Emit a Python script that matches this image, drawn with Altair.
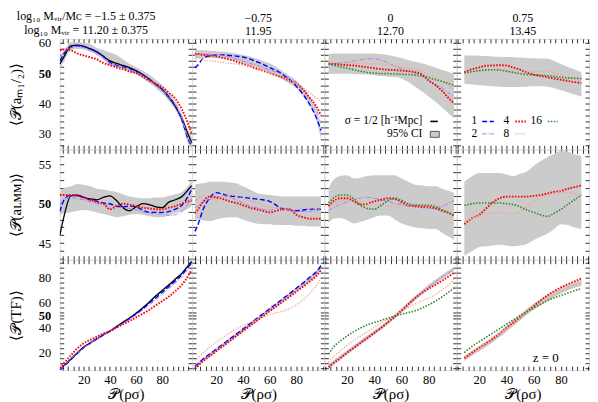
import altair as alt
import pandas as pd

SERIF = "Liberation Serif"
BAND_COLOR = "#cbcbcb"
W, H = 133, 111

# ---------------- x grids per column ----------------
X_C1 = [1.7, 5, 10, 15, 20, 25, 30, 35, 40, 45, 50, 55, 60, 65, 70, 75, 80, 85, 90, 95, 100, 102.5]
X_C2 = [4, 6, 10, 15, 20, 25, 30, 35, 40, 45, 50, 55, 60, 65, 70, 75, 80, 85, 90, 95, 98.5]
X_C3 = [6.5, 10, 15, 20, 25, 30, 35, 40, 45, 50, 55, 60, 65, 70, 75, 80, 85, 90, 95, 98.5]
X_C4 = [9, 15, 20, 25, 30, 35, 40, 45, 50, 55, 60, 65, 70, 75, 80, 85, 90, 95]

# ---------------- row 1: <P(a_M1/2)> ----------------
R1C1_HALF = [53, 55.5, 59, 59.2, 58.8, 58, 57, 55.5, 54, 53.2, 52.5, 51.8, 50.8, 49.5, 48, 46.2, 44.5, 42, 39, 35, 29.5, 27]
R1C1_S1 = [54, 56.5, 58.5, 59, 58.8, 58, 57, 55.5, 53.5, 52.5, 52, 51.5, 50.5, 49.5, 48, 46.3, 44.5, 42.2, 39.2, 34.5, 28, 26]
R1C1_S2 = [55.5, 57, 58.5, 58.8, 58.3, 57.5, 56.5, 55, 53.2, 52.3, 51.8, 51, 50.3, 49.2, 47.8, 46.2, 44.3, 42, 39.5, 35, 28.5, 26.5]
R1C1_S4 = [57.5, 57.8, 57.5, 56.5, 55.8, 55.2, 54.5, 53.3, 52.6, 51.8, 51.3, 50.5, 50, 48.8, 47.5, 46.5, 45.3, 43.5, 41.5, 38, 33, 30]
R1C1_LO = [51.5, 54, 57.5, 58, 57.8, 57, 56, 54.5, 52.5, 52, 51.3, 50.5, 49.5, 48.3, 46.7, 45, 43.2, 40.8, 37.8, 33.5, 26.5, 25]
R1C1_HI = [55, 57.5, 60.2, 60.3, 60, 59.5, 58.3, 57.5, 56.8, 56, 54.5, 53, 52, 50.8, 49.5, 47.8, 46, 43.5, 40.5, 36.5, 31, 29]

R1C2_S1 = [51.7, 52.5, 54.8, 55.7, 56, 56, 55.8, 55.6, 55.3, 54.7, 53.8, 52.9, 51.8, 50.8, 49.5, 47.8, 45.6, 43, 39.6, 35.2, 31]
R1C2_S2 = [56, 56.1, 56.3, 56.2, 56, 55.7, 55.3, 54.7, 54, 53.3, 52.5, 51.8, 51, 50.3, 49.5, 48.3, 47, 45, 42, 38, 33]
R1C2_S4 = [56.3, 56.3, 56.0, 55.8, 55.5, 55.0, 54.5, 53.8, 53.0, 52.3, 51.5, 50.8, 50.0, 49.2, 48.5, 47.5, 46.5, 44.5, 41.8, 39, 36]
R1C2_S8 = [56, 55.5, 54.3, 54, 53.8, 53.5, 53.2, 53, 52.6, 52.2, 51.5, 50.9, 50.2, 49.3, 48.5, 47.5, 46.5, 45, 43.5, 41.8, 40.5]
R1C2_LO = [54.5, 54.8, 55, 55, 55, 54.8, 54.5, 54, 53.2, 52.6, 52, 51, 50, 49, 47.8, 46.5, 45, 42.5, 39.5, 34.5, 28]
R1C2_HI = [57.5, 57.5, 57.5, 57.4, 57.2, 57, 56.8, 56.5, 56, 55.5, 54.8, 54, 53.2, 52, 50.5, 49, 47.5, 45, 42, 37.5, 31.5]

R1C3_S2 = [52.8, 53, 53.3, 53.6, 54, 54.4, 54.7, 54.7, 54.2, 53.4, 52.3, 51.3, 50.6, 50, 49, 47.5, 46.2, 45, 43.3, 42]
R1C3_S4 = [53.1, 53, 52.8, 52.6, 52.5, 52.2, 51.9, 51.6, 51.3, 51.1, 51, 50.8, 50.6, 50.3, 49.5, 47.5, 46, 44, 41.5, 40]
R1C3_S8 = [53.5, 53.5, 53.4, 53.3, 53.3, 53.2, 53.1, 53.1, 53.0, 52.8, 52.4, 52, 51.6, 51.2, 50.5, 49.5, 48.5, 47.3, 45.7, 44.5]
R1C3_S16 = [53, 52.6, 52.1, 51.6, 51.1, 50.6, 50.2, 50, 49.8, 49.8, 49.7, 49.6, 49.5, 49.3, 49, 48.5, 47.8, 47.2, 46.5, 46]
R1C3_LO = [49.8, 49.8, 49.8, 49.8, 49.7, 49.6, 49.5, 49.3, 49, 48.8, 48.7, 48.2, 47, 45.5, 44, 42.2, 40.5, 38.5, 36.5, 35]
R1C3_HI = [56.3, 56.5, 56.5, 56.5, 56.5, 56.5, 56.5, 56.5, 56.3, 56.0, 55.5, 55, 54.3, 53.7, 53.2, 52.5, 51.8, 51, 50.3, 49.8]

R1C4_S4 = [50.3, 51.3, 51.9, 52.4, 52.5, 52.6, 52.5, 51.8, 51.1, 50.2, 49.5, 49, 48.6, 48.2, 47.8, 47.4, 47, 46.7]
R1C4_S8 = [50, 50.4, 50.8, 51, 51, 51, 50.8, 50.5, 50.3, 50.3, 50.4, 50.6, 50.7, 50.2, 49.3, 48.5, 48, 47.6]
R1C4_S16 = [50, 50.5, 50.8, 51, 51.1, 51, 50.6, 50.2, 49.8, 49.5, 49.4, 49.3, 49.1, 48.9, 48.6, 48.4, 48.3, 48.2]
R1C4_LO = [46.5, 46.2, 46, 45.8, 45.6, 45.5, 45.4, 45.4, 45.4, 45.5, 45.6, 45.6, 45.5, 45, 44.3, 43.6, 42.9, 42.2]
R1C4_HI = [55.8, 55.8, 55.7, 55.6, 55.5, 55.4, 55.3, 55.2, 55.1, 55.0, 54.9, 54.8, 54.7, 54, 53, 52, 51.2, 50.3]

# ---------------- row 2: <P(a_LMM)> ----------------
R2C1_HALF = [46, 48.5, 51, 51.1, 50.8, 50.6, 50.5, 50.8, 51.0, 50.4, 49.5, 49.1, 49.6, 50.0, 49.9, 49.6, 49.5, 50.2, 50.5, 50.9, 51.8, 52.3]
R2C1_S1 = [49, 50.5, 51.1, 51.0, 50.8, 50.5, 50.3, 50.1, 50.0, 49.7, 49.6, 49.7, 49.6, 49.2, 48.9, 48.9, 48.9, 49.0, 49.3, 49.8, 51.0, 51.8]
R2C1_S2 = [49.8, 50.6, 50.8, 50.6, 50.5, 50.2, 50.0, 49.9, 49.8, 49.6, 49.5, 49.4, 49.2, 49.0, 48.8, 48.7, 48.7, 48.5, 48.6, 49.0, 50.0, 50.7]
R2C1_S4 = [51.1, 51.1, 51.1, 51.0, 50.8, 50.5, 50.2, 50.0, 49.3, 49.7, 50.0, 49.9, 49.7, 49.5, 49.4, 49.3, 49.3, 49.5, 49.7, 50.0, 50.3, 50.4]
R2C1_LO = [48.5, 48.8, 48.9, 49.1, 49.2, 49.1, 48.9, 48.7, 48.5, 48.3, 48.4, 48.6, 48.7, 48.6, 48.4, 48.3, 48.3, 48.5, 48.8, 49.0, 49.4, 49.7]
R2C1_HI = [51.5, 52.0, 52.2, 52.5, 52.4, 52.2, 51.9, 51.8, 51.6, 51.5, 51.2, 50.9, 50.8, 50.7, 50.7, 50.8, 50.8, 51.0, 51.2, 51.5, 52.3, 53.0]

R2C2_S1 = [46.5, 47.2, 49.2, 50.7, 51.4, 51.2, 51.0, 50.9, 50.8, 50.7, 50.6, 50.5, 50.3, 49.8, 49.3, 49.2, 49.1, 49.2, 49.3, 49.3, 49.3]
R2C2_S2 = [49.5, 49.7, 50.2, 50.5, 50.8, 51.0, 50.8, 50.5, 50.1, 49.7, 49.5, 49.3, 49.2, 49.4, 49.5, 49.2, 49.0, 49.0, 49.0, 49.1, 49.3]
R2C2_S4 = [48.8, 49.2, 50.2, 50.9, 50.8, 50.6, 50.3, 50.1, 49.8, 49.5, 49.3, 49.1, 48.9, 49.1, 49.3, 49.3, 48.6, 48.3, 48.1, 48.1, 48.1]
R2C2_S8 = [50.3, 50.6, 51.0, 50.8, 50.5, 50.8, 51.1, 51.0, 50.7, 50.4, 50.1, 49.8, 49.6, 49.5, 49.3, 49.2, 49.3, 49.5, 49.4, 49.3, 49.3]
R2C2_LO = [48.1, 48.0, 47.9, 47.8, 48.0, 48.2, 48.3, 48.3, 48.0, 47.7, 47.5, 47.4, 47.4, 47.3, 47.3, 47.3, 47.2, 47.2, 47.1, 47.1, 47.1]
R2C2_HI = [52.4, 52.5, 52.6, 52.8, 52.8, 52.8, 52.7, 52.6, 52.2, 51.8, 51.4, 51.2, 51.1, 51.0, 50.9, 50.9, 50.9, 50.9, 50.9, 50.9, 50.9]

R2C3_S2 = [49.2, 49.5, 49.9, 50.2, 50.5, 50.7, 50.8, 50.7, 50.5, 50.3, 50.0, 49.9, 49.7, 49.6, 49.5, 49.4, 49.4, 49.7, 50.1, 50.4]
R2C3_S4 = [49.7, 50.3, 50.7, 50.7, 50.3, 49.9, 50.0, 50.3, 50.5, 50.7, 50.6, 50.2, 49.8, 49.7, 49.6, 49.6, 49.4, 49.1, 48.8, 48.5]
R2C3_S8 = [49.5, 49.9, 50.3, 50.5, 50.3, 50.1, 50.0, 49.9, 49.8, 49.7, 49.6, 49.7, 49.9, 49.9, 49.9, 49.9, 49.8, 49.5, 49.0, 48.7]
R2C3_S16 = [50.1, 50.7, 51.1, 51.1, 50.6, 49.8, 49.4, 49.3, 49.8, 50.4, 50.7, 50.4, 50.0, 49.8, 49.8, 49.8, 49.6, 49.2, 48.8, 48.5]
R2C3_LO = [47.6, 48.1, 48.2, 47.9, 47.5, 47.7, 48.0, 48.3, 48.5, 48.5, 48.0, 47.5, 47.2, 47.0, 46.9, 46.8, 46.8, 46.3, 45.8, 45.4]
R2C3_HI = [52.0, 53.0, 53.5, 53.6, 53.2, 53.3, 53.5, 53.6, 53.6, 53.6, 53.6, 53.2, 52.8, 52.4, 52.3, 52.2, 52.2, 51.9, 51.6, 51.4]

R2C4_S4 = [47.4, 48.2, 48.6, 49.4, 50.2, 50.7, 50.9, 50.9, 50.9, 50.9, 51.0, 51.1, 51.3, 51.5, 51.6, 51.9, 52.1, 52.3]
R2C4_S8 = [47.7, 48.2, 48.5, 48.7, 48.8, 48.9, 48.8, 48.7, 49.0, 49.6, 50.2, 50.7, 51.1, 51.3, 51.5, 51.4, 51.3, 51.1]
R2C4_S16 = [49.8, 50.0, 50.1, 50.1, 50.1, 50.1, 50.0, 49.9, 49.6, 49.2, 48.9, 48.6, 48.4, 48.8, 49.3, 49.9, 50.5, 51.1]
R2C4_LO = [43.4, 44.0, 44.5, 44.6, 44.7, 44.8, 44.7, 44.6, 44.7, 44.9, 45.4, 45.8, 46.2, 46.8, 47.4, 47.3, 47.0, 46.8]
R2C4_HI = [52.8, 53.5, 53.9, 53.9, 53.9, 53.9, 53.7, 53.5, 53.8, 54.1, 54.8, 55.4, 55.9, 56.3, 56.7, 56.6, 56.3, 56.0]

# ---------------- row 3: <P(TF)> ----------------
R3C1_HALF = [6.7, 10, 15, 20, 24.7, 28, 31.3, 34.5, 37.5, 41, 44.5, 48, 51.8, 56, 60.6, 65.5, 70, 74.3, 79, 83.7, 90, 93.2]
R3C1_S1 = [6.5, 9.5, 14.5, 19.5, 24.2, 27.8, 31.2, 34.5, 37.5, 40.8, 44.2, 47.5, 51.2, 55.2, 59.5, 64, 68.5, 73, 77.5, 82.5, 89, 92.6]
R3C1_S2 = [7, 10, 15, 19.8, 24.2, 27.8, 31.2, 34.4, 37.3, 40.5, 43.8, 47, 50.5, 54.2, 58.3, 62.5, 67, 71.5, 76, 81, 87.5, 91]
R3C1_S4 = [7.8, 12, 18, 23.5, 27.8, 30.5, 33, 35.5, 37.3, 40.2, 43, 45.6, 48.4, 51.3, 54.4, 58, 61.5, 65, 69.5, 74.5, 82, 86.6]
R3C1_LO = [5.5, 9, 14, 19, 23.7, 27, 30.3, 33.5, 36.5, 40, 43.5, 47, 50.8, 55, 59.6, 64.5, 69, 73.3, 78, 82.7, 89, 92.2]
R3C1_HI = [7.7, 11, 16, 21, 25.7, 29, 32.3, 35.5, 38.5, 42, 45.5, 49, 52.8, 57, 61.6, 66.5, 71, 75.3, 80, 84.7, 91, 94.2]

R3C2_S1 = [9.2, 11, 15, 19, 23, 27, 31, 35, 39, 43.2, 47.3, 51.3, 55.3, 59.3, 63.5, 67.5, 71.8, 76, 80.5, 85, 89.8]
R3C2_S2 = [8.3, 10, 14.1, 18.1, 22.2, 26.2, 30.2, 34.2, 38.2, 42.2, 46.3, 50.3, 54.3, 58.3, 62.3, 66.3, 70.3, 74.5, 78.8, 83.3, 88]
R3C2_S4 = [7.5, 9.2, 13.3, 17.3, 21.4, 25.4, 29.4, 33.4, 37.4, 41.4, 45.4, 49.3, 53.3, 57.2, 61.2, 65.1, 69, 73, 77.2, 81.5, 86.3]
R3C2_S8 = [14, 15.5, 20, 24.5, 28.5, 32.5, 36, 39.3, 41.8, 44.3, 46.5, 48.5, 50.5, 52, 53.5, 55.5, 58.5, 62.5, 67.5, 74, 80.5]
R3C2_LO = [7, 8.8, 12.8, 16.8, 20.8, 24.8, 28.8, 32.8, 36.8, 40.8, 44.9, 48.9, 52.9, 56.9, 60.9, 64.9, 68.9, 73, 77.3, 81.8, 86.5]
R3C2_HI = [10, 11.8, 15.8, 19.8, 23.8, 27.8, 31.8, 35.8, 39.8, 43.9, 48, 52, 56, 60, 64.2, 68.2, 72.5, 76.8, 81.2, 85.8, 90.5]

R3C3_S2 = [9.5, 12.5, 16.5, 20.5, 24.5, 28.5, 32.3, 36.2, 40.2, 44.5, 49, 53.8, 58.8, 63.8, 68.5, 73, 77, 81, 84.5, 87]
R3C3_S4 = [8.5, 11.5, 15.5, 20, 24, 28, 32, 36, 40, 44.5, 49, 54, 59, 64, 68, 71.5, 74.7, 78, 81.5, 84]
R3C3_S8 = [12.5, 17, 21.5, 26, 30, 33.5, 37, 40.5, 44, 47, 50.3, 53.3, 56.3, 59, 61.6, 64, 66.8, 70.5, 75, 79]
R3C3_S16 = [19, 24.5, 29.5, 33.5, 37, 40, 42.5, 44.3, 46, 47.8, 49.5, 51, 52.3, 53.7, 56, 58.5, 61.6, 65, 69, 72]
R3C3_LO = [7.8, 10.8, 14.8, 18.8, 22.8, 26.8, 30.6, 34.5, 38.5, 42.8, 47.3, 52, 57, 62, 66.7, 71.2, 75.2, 79.2, 82.8, 85.3]
R3C3_HI = [11.2, 14.2, 18.2, 22.2, 26.2, 30.2, 34, 37.9, 41.9, 46.2, 50.7, 55.6, 60.6, 65.6, 70.3, 74.8, 78.8, 82.8, 86.2, 88.7]

R3C4_S4 = [15.8, 20.5, 24, 27.5, 31.2, 35.2, 40, 44.2, 48.5, 53, 57.5, 62, 66, 69.5, 72.5, 75, 77.3, 79.5]
R3C4_S8 = [15, 19.5, 23.2, 27, 31, 35, 39.5, 44, 48.5, 52.5, 56.3, 60, 63.3, 66.5, 69.5, 72, 74.2, 76]
R3C4_S16 = [20.2, 25.5, 29, 32.5, 36, 39.5, 43, 46.5, 49.8, 53, 56, 59, 61.8, 64, 66, 68, 69.8, 71.5]
R3C4_LO = [13.5, 18, 21.5, 25, 28.8, 32.8, 37, 41.5, 46, 50.5, 54.5, 58, 61.3, 64.5, 67.5, 70, 72.2, 73.5]
R3C4_HI = [17.5, 22, 25.5, 29.2, 33.3, 37.3, 41.8, 46.5, 51, 55.3, 59.3, 63, 66.3, 69.3, 72, 74.5, 76.5, 78.5]

# ---------------- text ----------------
COL_TITLES = [
    ["log\u2081\u2080 M\u1d65\u1d62\u1d63/M\u1d04 = \u22121.5 \u00b1 0.375", "log\u2081\u2080 M\u1d65\u1d62\u1d63 = 11.20 \u00b1 0.375"],
    ["\u22120.75", "11.95"],
    ["0", "12.70"],
    ["0.75", "13.45"],
]
ROW_TITLES = ["\u27e8\U0001D4AB(a\u2098\u2081/\u2082)\u27e9", "\u27e8\U0001D4AB(a\u029f\u1d0d\u1d0d)\u27e9", "\u27e8\U0001D4AB(TF)\u27e9"]
X_TITLE = "\U0001D4AB(\u03c1\u03c3)"
SIGMA_LABEL = ["\u03c3 = 1/2 [h\u207b\u00b9Mpc]"]
CI_LABEL = ["95% CI"]
LEG_ROW1 = ["1", "4", "16"]
LEG_ROW2 = ["2", "8"]
Z_LABEL = ["z = 0"]

XDOM = [[1.6, 102.8], [1.9, 101.0], [3.4, 100.5], [3.4, 100.6]]
YDOM = [[24.8, 61.3], [42.9, 56.9], [6.2, 94.6]]
XT = [[v for v in range(4, 101, 4) if d[0] <= v <= d[1]] for d in XDOM]
YT = [list(range(26, 61, 2)), list(range(43, 57)), sorted(list(range(8, 93, 4)) + [50])]
XLAB = "(datum.value==20||datum.value==40||datum.value==60||datum.value==80) ? datum.label : ''"
YLAB = [
    "(datum.value % 10 == 0) ? datum.label : ''",
    "(datum.value % 5 == 0) ? datum.label : ''",
    "(datum.value==20||datum.value==40||datum.value==50||datum.value==60||datum.value==80) ? datum.label : ''",
]

STYLES = {
    "half": dict(color="black", strokeWidth=1.3),
    "s1": dict(color="#0000ff", strokeDash=[5, 2.5], strokeWidth=1.4),
    "s2": dict(color="#a97cf4", strokeDash=[4, 1.5, 1, 1.5], strokeWidth=1.0),
    "s4": dict(color="#ff0000", strokeDash=[1.6, 1.4], strokeWidth=1.9),
    "s8": dict(color="#f3a183", strokeDash=[1.2, 1.5], strokeWidth=1.3),
    "s16": dict(color="#2a8a2a", strokeDash=[1.5, 1.5], strokeWidth=1.6),
}

BOLD50 = {"condition": {"test": "datum.value == 50", "value": "bold"}, "value": "normal"}


def make_axis(orient, values, show_labels, label_expr=None, bold=False, pad=4, tpad=4):
    kw = dict(orient=orient, values=values, offset=-4, tickSize=4, tickWidth=0.8,
              tickColor="black", domain=False, grid=False, labels=show_labels,
              labelFont=SERIF, labelFontSize=12.5, labelColor="black",
              labelPadding=pad, labelOverlap=False, labelFlush=False,
              titleFont=SERIF, titleFontSize=15, titleFontWeight="normal",
              titleColor="black", titlePadding=tpad)
    if show_labels and label_expr:
        kw["labelExpr"] = label_expr
    if show_labels and bold:
        kw["labelFontWeight"] = BOLD50
    return alt.Axis(**kw)


def text_layer(txt, x, y, align="center", size=11.5):
    return alt.Chart(pd.DataFrame({"t": txt})).mark_text(
        font=SERIF, fontSize=size, align=align, baseline="middle", color="black"
    ).encode(x=alt.value(x), y=alt.value(y), text="t:N")


def rule_layer(x1, x2, y, style):
    return alt.Chart(pd.DataFrame({"k": [0]})).mark_rule(**style).encode(
        x=alt.value(x1), x2=alt.value(x2), y=alt.value(y))


def panel(r, c, xs, lo, hi, series, extras=()):
    data = {"x": xs, "lo": lo, "hi": hi}
    for key, vals in series:
        data[key] = vals
    df = pd.DataFrame(data)
    xsc = alt.Scale(domain=XDOM[c], nice=False, zero=False)
    ysc = alt.Scale(domain=YDOM[r], nice=False, zero=False)

    ax_b = make_axis("bottom", XT[c], r == 2, XLAB, pad=3, tpad=1)
    ax_l = make_axis("left", YT[r], c == 0, YLAB[r], bold=True, pad=9, tpad=15)
    ax_t = make_axis("top", XT[c], False)
    ax_r = make_axis("right", YT[r], False)

    x_main = alt.X("x:Q", scale=xsc, axis=ax_b, title=X_TITLE if r == 2 else None)
    y_main = alt.Y("lo:Q", scale=ysc, axis=ax_l, title=ROW_TITLES[r] if c == 0 else None)

    band = alt.Chart(df).mark_area(color=BAND_COLOR, interpolate="monotone", clip=True).encode(
        x=x_main, y=y_main, y2="hi:Q")
    lines = []
    for key, _ in series:
        lines.append(alt.Chart(df).mark_line(interpolate="monotone", clip=True, **STYLES[key]).encode(
            x=alt.X("x:Q", scale=xsc, axis=None),
            y=alt.Y(f"{key}:Q", scale=ysc, axis=None)))
    ghost = alt.Chart(df).mark_line(opacity=0).encode(
        x=alt.X("x:Q", scale=xsc, axis=ax_t, title=None),
        y=alt.Y("lo:Q", scale=ysc, axis=ax_r, title=None))
    ch = alt.layer(band, *lines, ghost, *extras).resolve_axis(x="independent", y="independent")
    props = dict(width=W, height=H)
    if r == 0:
        props["title"] = alt.TitleParams(
            text=COL_TITLES[c], font=SERIF, fontSize=12, fontWeight="normal", color="black",
            anchor="middle", offset=0, lineHeight=13.5, dx=(-40 if c == 0 else 0))
    return ch.properties(**props)


legend_c3 = [
    text_layer(SIGMA_LABEL, 98.5, 83, align="right"),
    rule_layer(106.5, 114, 83, dict(color="black", strokeWidth=1.6)),
    text_layer(CI_LABEL, 98.5, 96, align="right"),
    alt.Chart(pd.DataFrame({"k": [0]})).mark_rect(color=BAND_COLOR, stroke="black", strokeWidth=0.6).encode(
        x=alt.value(106.5), x2=alt.value(115.5), y=alt.value(93), y2=alt.value(99)),
]
legend_c4 = [
    text_layer(LEG_ROW1[0:1], 17.7, 83),
    rule_layer(25.6, 37.4, 83, STYLES["s1"]),
    text_layer(LEG_ROW1[1:2], 50, 83),
    rule_layer(59, 69.5, 83, STYLES["s4"]),
    text_layer(LEG_ROW1[2:3], 80, 83),
    rule_layer(91.6, 101.5, 83, STYLES["s16"]),
    text_layer(LEG_ROW2[0:1], 17.7, 95.5),
    rule_layer(25.6, 37.4, 95.5, STYLES["s2"]),
    text_layer(LEG_ROW2[1:2], 50, 95.5),
    rule_layer(59, 69.5, 95.5, STYLES["s8"]),
]
z_note = [text_layer(Z_LABEL, 89.6, 99, size=13)]

panels = [
    panel(0, 0, X_C1, R1C1_LO, R1C1_HI, [("half", R1C1_HALF), ("s1", R1C1_S1), ("s2", R1C1_S2), ("s4", R1C1_S4)]),
    panel(0, 1, X_C2, R1C2_LO, R1C2_HI, [("s1", R1C2_S1), ("s2", R1C2_S2), ("s4", R1C2_S4), ("s8", R1C2_S8)]),
    panel(0, 2, X_C3, R1C3_LO, R1C3_HI, [("s2", R1C3_S2), ("s4", R1C3_S4), ("s8", R1C3_S8), ("s16", R1C3_S16)], legend_c3),
    panel(0, 3, X_C4, R1C4_LO, R1C4_HI, [("s4", R1C4_S4), ("s8", R1C4_S8), ("s16", R1C4_S16)], legend_c4),
    panel(1, 0, X_C1, R2C1_LO, R2C1_HI, [("half", R2C1_HALF), ("s1", R2C1_S1), ("s2", R2C1_S2), ("s4", R2C1_S4)]),
    panel(1, 1, X_C2, R2C2_LO, R2C2_HI, [("s1", R2C2_S1), ("s2", R2C2_S2), ("s4", R2C2_S4), ("s8", R2C2_S8)]),
    panel(1, 2, X_C3, R2C3_LO, R2C3_HI, [("s2", R2C3_S2), ("s4", R2C3_S4), ("s8", R2C3_S8), ("s16", R2C3_S16)]),
    panel(1, 3, X_C4, R2C4_LO, R2C4_HI, [("s4", R2C4_S4), ("s8", R2C4_S8), ("s16", R2C4_S16)]),
    panel(2, 0, X_C1, R3C1_LO, R3C1_HI, [("half", R3C1_HALF), ("s1", R3C1_S1), ("s2", R3C1_S2), ("s4", R3C1_S4)]),
    panel(2, 1, X_C2, R3C2_LO, R3C2_HI, [("s1", R3C2_S1), ("s2", R3C2_S2), ("s4", R3C2_S4), ("s8", R3C2_S8)]),
    panel(2, 2, X_C3, R3C3_LO, R3C3_HI, [("s2", R3C3_S2), ("s4", R3C3_S4), ("s8", R3C3_S8), ("s16", R3C3_S16)]),
    panel(2, 3, X_C4, R3C4_LO, R3C4_HI, [("s4", R3C4_S4), ("s8", R3C4_S8), ("s16", R3C4_S16)], z_note),
]

chart = alt.concat(*panels, columns=4, spacing=0, bounds="flush").properties(
    padding={"left": 0, "top": 0, "right": 0, "bottom": 0}
).configure_view(stroke="black", strokeWidth=1).configure(font=SERIF)

chart.save("out.html", embed_options={"renderer": "svg", "actions": False})
